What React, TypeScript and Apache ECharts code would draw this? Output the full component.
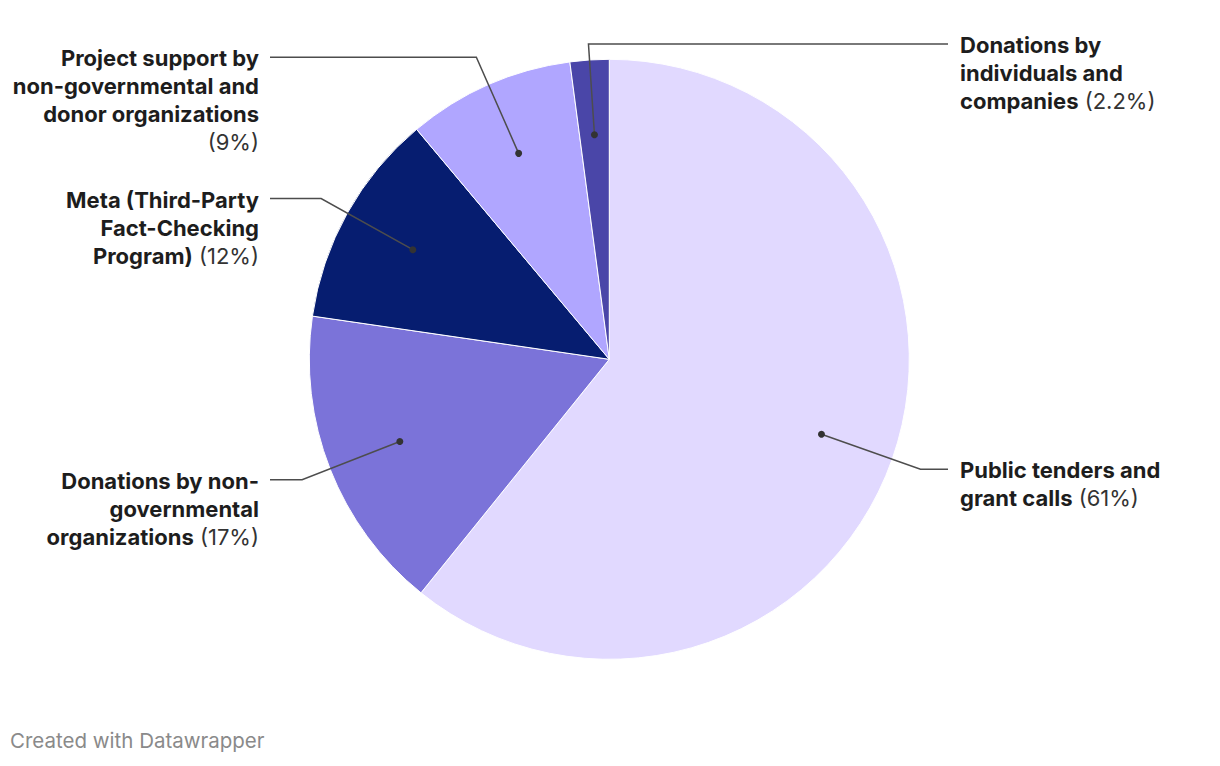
import React, { useEffect, useRef } from "react";
import * as echarts from "echarts";

const categories = [
  "Public tenders and grant calls",
  "Donations by non-governmental organizations",
  "Meta (Third-Party Fact-Checking Program)",
  "Project support by non-governmental and donor organizations",
  "Donations by individuals and companies",
];
const shares = [60.8, 16.5, 11.6, 9.0, 2.1];
const shareLabels = ["61%", "17%", "12%", "9%", "2.2%"];
const labelLines = [
  ["Public tenders and", "grant calls"],
  ["Donations by non-", "governmental", "organizations"],
  ["Meta (Third-Party", "Fact-Checking", "Program)"],
  ["Project support by", "non-governmental and", "donor organizations"],
  ["Donations by", "individuals and", "companies"],
];
const pctOnNewLine = [false, false, false, true, false];
const labelSide = ["right", "left", "left", "left", "right"];
const colors = ["#e1d9ff", "#7b73d9", "#061d70", "#b0a6ff", "#4a46a8"];

const CX = 609.3;
const CY = 359.3;
const R = 300;
const FONT = "Inter";
const FS = 22;

export default function App() {
  const ref = useRef<HTMLDivElement>(null);
  useEffect(() => {
    document.body.style.margin = "0";
    const chart = echarts.init(ref.current!, null, { renderer: "svg" });
    const total = shares.reduce((a, b) => a + b, 0);
    let cum = 0;
    const graphics: any[] = [];
    shares.forEach((v, i) => {
      const mid = (cum + v / 2) / total;
      cum += v;
      const th = mid * Math.PI * 2;
      const dx = Math.sin(th);
      const dy = -Math.cos(th);
      const dot = [CX + 225 * dx, CY + 225 * dy];
      let t = 330;
      if (CY + t * dy < 44) t = (CY - 44) / -dy;
      const bend = [CX + t * dx, CY + t * dy];
      const right = labelSide[i] === "right";
      const endX = right ? 948 : 270;
      const lx = right ? 960 : 259;
      graphics.push({
        type: "polyline",
        shape: { points: [dot, bend, [endX, bend[1]]] },
        style: { stroke: "#4d4d4d", lineWidth: 1.5, fill: null },
        z: 10,
      });
      graphics.push({
        type: "circle",
        shape: { cx: dot[0], cy: dot[1], r: 3.5 },
        style: { fill: "#333" },
        z: 11,
      });
      const lines = labelLines[i].map((l) => `{b|${l}}`);
      const pct = `{r|(${shareLabels[i]})}`;
      if (pctOnNewLine[i]) lines.push(pct);
      else lines[lines.length - 1] += ` ${pct}`;
      graphics.push({
        type: "text",
        x: lx,
        y: bend[1] - 13,
        z: 12,
        style: {
          text: lines.join("\n"),
          align: right ? "left" : "right",
          verticalAlign: "top",
          fontFamily: FONT,
          fontSize: FS,
          lineHeight: 28,
          fill: "#1d1d1d",
          rich: {
            b: { fontFamily: FONT, fontSize: FS, fontWeight: "bold", lineHeight: 28, fill: "#1d1d1d" },
            r: { fontFamily: FONT, fontSize: FS, fontWeight: "normal", lineHeight: 28, fill: "#333" },
          },
        },
      });
    });
    graphics.push({
      type: "text",
      x: 10,
      y: 740,
      style: {
        text: "Created with Datawrapper",
        fontFamily: FONT,
        fontSize: 20.5,
        fill: "#8a8a8a",
        verticalAlign: "middle",
      },
    });
    chart.setOption({
      animation: false,
      backgroundColor: "#ffffff",
      series: [
        {
          type: "pie",
          center: [CX, CY],
          radius: [0, R],
          startAngle: 90,
          clockwise: true,
          label: { show: false },
          labelLine: { show: false },
          emphasis: { disabled: true },
          itemStyle: { borderColor: "#ffffff", borderWidth: 1 },
          data: categories.map((c, i) => ({
            name: c,
            value: shares[i],
            itemStyle: { color: colors[i] },
          })),
        },
      ],
      graphic: graphics,
    });
    return () => chart.dispose();
  }, []);
  return <div ref={ref} style={{ width: 1220, height: 766 }} />;
}
